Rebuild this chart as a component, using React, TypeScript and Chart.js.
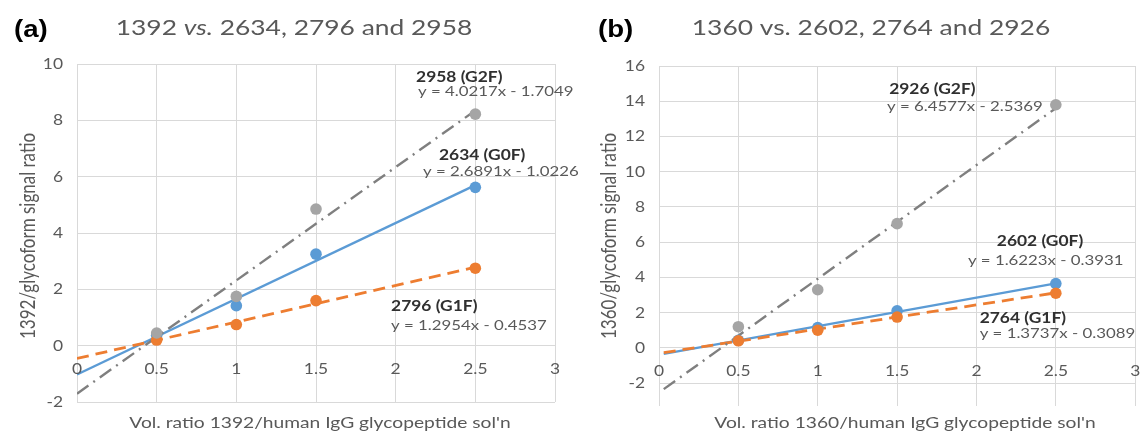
import React, { useEffect, useRef } from "react";
import { Chart, registerables } from "chart.js";

Chart.register(...registerables);

// ---------------- data ----------------
// Volume ratios (x) of the measured points, shared by both panels
const volRatios = [0.5, 1, 1.5, 2.5];

// Panel (a): 1392 vs. 2634, 2796 and 2958
const a_G0F = [0.37, 1.42, 3.25, 5.62];
const a_G1F = [0.2, 0.75, 1.6, 2.75];
const a_G2F = [0.45, 1.75, 4.85, 8.22];
const a_names = ["2634 (G0F)", "2796 (G1F)", "2958 (G2F)"];
const a_slopes = [2.6891, 1.2954, 4.0217];
const a_intercepts = [-1.0226, -0.4537, -1.7049];
const a_trendFrom = 0;

// Panel (b): 1360 vs. 2602, 2764 and 2926
const b_G0F = [0.43, 1.15, 2.1, 3.65];
const b_G1F = [0.4, 1.0, 1.75, 3.1];
const b_G2F = [1.2, 3.3, 7.05, 13.8];
const b_names = ["2602 (G0F)", "2764 (G1F)", "2926 (G2F)"];
const b_slopes = [1.6223, 1.3737, 6.4577];
const b_intercepts = [-0.3931, -0.3089, -2.5369];
const b_trendFrom = 0.03;

const trendTo = 2.5;

// axes
const xRange = [0, 3];
const xStep = 0.5;
const a_yRange = [-2, 10];
const b_yRange = [-3.3, 16];
const yStep = 2;

// texts
const a_tag = "(a)";
const b_tag = "(b)";
const a_title = [{ text: "1392 " }, { text: "vs.", italic: true }, { text: " 2634, 2796 and 2958" }];
const b_title = [{ text: "1360 vs. 2602, 2764 and 2926" }];
const a_yTitle = "1392/glycoform signal ratio";
const b_yTitle = "1360/glycoform signal ratio";
const a_xTitle = "Vol. ratio 1392/human IgG glycopeptide sol'n";
const b_xTitle = "Vol. ratio 1360/human IgG glycopeptide sol'n";

// ---------------- styles / layout ----------------
const BLUE = "#5B9BD5";
const ORANGE = "#ED7D31";
const GRAY = "#A5A5A5";
const GRAY_LINE = "#7F7F7F";
const GRID = "#D9D9D9";
const TEXT = "#595959";
const DARK = "#303030";
const FONT = "Lato";
const SX = 1.2; // horizontal text stretch

// label anchors in data units: [nameX, nameY, eqX, eqY] for G0F, G1F, G2F
const a_labelAnchors = [
  [2.272, 6.78, 2.172, 6.21],
  [1.971, 1.42, 1.971, 0.75],
  [2.128, 9.55, 2.14, 9.05],
];
const b_labelAnchors = [
  [2.128, 6.07, 1.946, 4.99],
  [2.02, 1.7, 2.02, 0.85],
  [1.45, 14.7, 1.437, 13.73],
];

type Seg = { text: string; italic?: boolean };

interface PanelCfg {
  left: number;
  width: number;
  padding: { left: number; right: number; top: number; bottom: number };
  yRange: number[];
  series: number[][];
  names: string[];
  slopes: number[];
  intercepts: number[];
  trendFrom: number;
  anchors: number[][];
  tag: string;
  tagX: number;
  title: Seg[];
  titleX: number;
  yTitle: string;
  yTitleX: number;
  yTitleY: number;
  xTitle: string;
  xTitleX: number;
  yTickRight: number;
}

const panels: PanelCfg[] = [
  {
    left: 0,
    width: 580,
    padding: { left: 77, right: 25, top: 64, bottom: 29 },
    yRange: a_yRange,
    series: [a_G0F, a_G1F, a_G2F],
    names: a_names,
    slopes: a_slopes,
    intercepts: a_intercepts,
    trendFrom: a_trendFrom,
    anchors: a_labelAnchors,
    tag: a_tag,
    tagX: 14,
    title: a_title,
    titleX: 294,
    yTitle: a_yTitle,
    yTitleX: 35,
    yTitleY: 236,
    xTitle: a_xTitle,
    xTitleX: 320,
    yTickRight: 63,
  },
  {
    left: 580,
    width: 561,
    padding: { left: 79, right: 2, top: 66, bottom: 25 },
    yRange: b_yRange,
    series: [b_G0F, b_G1F, b_G2F],
    names: b_names,
    slopes: b_slopes,
    intercepts: b_intercepts,
    trendFrom: b_trendFrom,
    anchors: b_labelAnchors,
    tag: b_tag,
    tagX: 18,
    title: b_title,
    titleX: 291,
    yTitle: b_yTitle,
    yTitleX: 36,
    yTitleY: 236,
    xTitle: b_xTitle,
    xTitleX: 325,
    yTickRight: 65,
  },
];

function eqText(s: number, b: number) {
  return `y = ${s.toFixed(4)}x ${b < 0 ? "-" : "+"} ${Math.abs(b).toFixed(4)}`;
}

function tickText(v: number) {
  return String(Math.round(v * 100) / 100);
}

function sText(
  ctx: CanvasRenderingContext2D,
  text: string,
  x: number,
  y: number,
  font: string,
  color: string,
  align: "left" | "center" | "right"
) {
  ctx.save();
  ctx.font = font;
  ctx.fillStyle = color;
  ctx.textBaseline = "alphabetic";
  ctx.textAlign = "left";
  const w = ctx.measureText(text).width * SX;
  const left = align === "left" ? x : align === "center" ? x - w / 2 : x - w;
  ctx.translate(left, y);
  ctx.scale(SX, 1);
  ctx.fillText(text, 0, 0);
  ctx.restore();
}

function makeTextPlugin(cfg: PanelCfg) {
  return {
    id: "panelText",
    afterDraw(chart: any) {
      const ctx: CanvasRenderingContext2D = chart.ctx;
      const xs = chart.scales.x;
      const ys = chart.scales.y;
      const tickFont = `14.5px ${FONT}`;
      // y tick labels
      ys.ticks.forEach((t: any) => {
        const py = ys.getPixelForValue(t.value);
        sText(ctx, tickText(t.value), cfg.yTickRight, py + 5, tickFont, TEXT, "right");
      });
      // x tick labels next to the y = 0 line
      const zeroY = ys.getPixelForValue(0);
      xs.ticks.forEach((t: any) => {
        const px = xs.getPixelForValue(t.value);
        sText(ctx, tickText(t.value), px, zeroY + 23 + 5, tickFont, TEXT, "center");
      });
      // tag
      sText(ctx, cfg.tag, cfg.tagX, 37, `bold 23px "Liberation Sans"`, "#000", "left");
      // title (segments)
      const tSize = 22;
      ctx.save();
      let total = 0;
      const widths = cfg.title.map((s) => {
        ctx.font = `${s.italic ? "italic " : ""}${tSize}px ${FONT}`;
        const w = ctx.measureText(s.text).width * SX;
        total += w;
        return w;
      });
      ctx.restore();
      let cx = cfg.titleX - total / 2;
      cfg.title.forEach((s, i) => {
        sText(ctx, s.text, cx, 35, `${s.italic ? "italic " : ""}${tSize}px ${FONT}`, TEXT, "left");
        cx += widths[i];
      });
      // y axis title (rotated)
      ctx.save();
      ctx.font = `17px ${FONT}`;
      ctx.fillStyle = TEXT;
      ctx.textAlign = "center";
      ctx.textBaseline = "alphabetic";
      ctx.translate(cfg.yTitleX, cfg.yTitleY);
      ctx.scale(SX, 1);
      ctx.rotate(-Math.PI / 2);
      ctx.fillText(cfg.yTitle, 0, 0);
      ctx.restore();
      // x axis title
      sText(ctx, cfg.xTitle, cfg.xTitleX, 428, `16px ${FONT}`, TEXT, "center");
      // trendline labels
      cfg.anchors.forEach((a, i) => {
        const nx = xs.getPixelForValue(a[0]);
        const ny = ys.getPixelForValue(a[1]);
        const ex = xs.getPixelForValue(a[2]);
        const ey = ys.getPixelForValue(a[3]);
        sText(ctx, cfg.names[i], nx, ny + 5.2, `bold 14.5px ${FONT}`, DARK, "left");
        sText(ctx, eqText(cfg.slopes[i], cfg.intercepts[i]), ex, ey + 5, `14px ${FONT}`, TEXT, "left");
      });
    },
  };
}

function buildConfig(cfg: PanelCfg) {
  const colors = [BLUE, ORANGE, GRAY];
  const points = (k: number) => ({
    label: cfg.names[k],
    data: volRatios.map((x, i) => ({ x, y: cfg.series[k][i] })),
    backgroundColor: colors[k],
    borderColor: colors[k],
    borderWidth: 0,
    pointRadius: 5.8,
    pointHoverRadius: 5.8,
    showLine: false,
  });
  const trend = (k: number, color: string, dash: number[], width: number) => ({
    label: cfg.names[k] + " trend",
    data: [cfg.trendFrom, trendTo].map((x) => ({ x, y: cfg.slopes[k] * x + cfg.intercepts[k] })),
    borderColor: color,
    backgroundColor: color,
    borderWidth: width,
    borderDash: dash,
    borderCapStyle: "butt",
    pointRadius: 0,
    showLine: true,
    fill: false,
    tension: 0,
  });
  return {
    type: "scatter",
    data: {
      datasets: [
        points(2),
        points(1),
        points(0),
        trend(2, GRAY_LINE, [14, 6, 2, 6], 2.4),
        trend(1, ORANGE, [12, 7], 2.8),
        trend(0, BLUE, [], 2.4),
      ],
    },
    options: {
      animation: false,
      responsive: false,
      maintainAspectRatio: false,
      events: [],
      layout: { padding: cfg.padding },
      plugins: { legend: { display: false }, tooltip: { enabled: false }, title: { display: false } },
      scales: {
        x: {
          type: "linear",
          min: xRange[0],
          max: xRange[1],
          ticks: { stepSize: xStep, display: false },
          grid: { color: GRID, drawTicks: false, lineWidth: 1 },
          border: { display: false },
        },
        y: {
          type: "linear",
          min: cfg.yRange[0],
          max: cfg.yRange[1],
          ticks: { stepSize: yStep, display: false },
          grid: { color: GRID, drawTicks: false, lineWidth: 1 },
          border: { display: false },
          afterBuildTicks: (axis: any) => {
            axis.ticks = axis.ticks.filter((t: any) => Math.abs(t.value % yStep) < 1e-9);
          },
        },
      },
    },
    plugins: [makeTextPlugin(cfg)],
  };
}

function Panel({ cfg }: { cfg: PanelCfg }) {
  const ref = useRef<HTMLCanvasElement>(null);
  useEffect(() => {
    if (!ref.current) return;
    const chart = new Chart(ref.current, buildConfig(cfg) as any);
    let alive = true;
    const fonts = (document as any).fonts;
    if (fonts && fonts.load) {
      Promise.all([
        fonts.load(`14px ${FONT}`),
        fonts.load(`bold 14px ${FONT}`),
        fonts.load(`italic 22px ${FONT}`),
        fonts.load(`bold 23px "Liberation Sans"`),
      ])
        .catch(() => undefined)
        .then(() => {
          if (alive) chart.draw();
        });
    }
    return () => {
      alive = false;
      chart.destroy();
    };
  }, [cfg]);
  return (
    <canvas
      ref={ref}
      width={cfg.width}
      height={431}
      style={{ position: "absolute", left: cfg.left, top: 0, width: cfg.width, height: 431 }}
    />
  );
}

export default function App() {
  return (
    <div
      style={{
        position: "fixed",
        left: 0,
        top: 0,
        width: 1141,
        height: 431,
        overflow: "hidden",
        background: "#fff",
      }}
    >
      {panels.map((p, i) => (
        <Panel key={i} cfg={p} />
      ))}
    </div>
  );
}
